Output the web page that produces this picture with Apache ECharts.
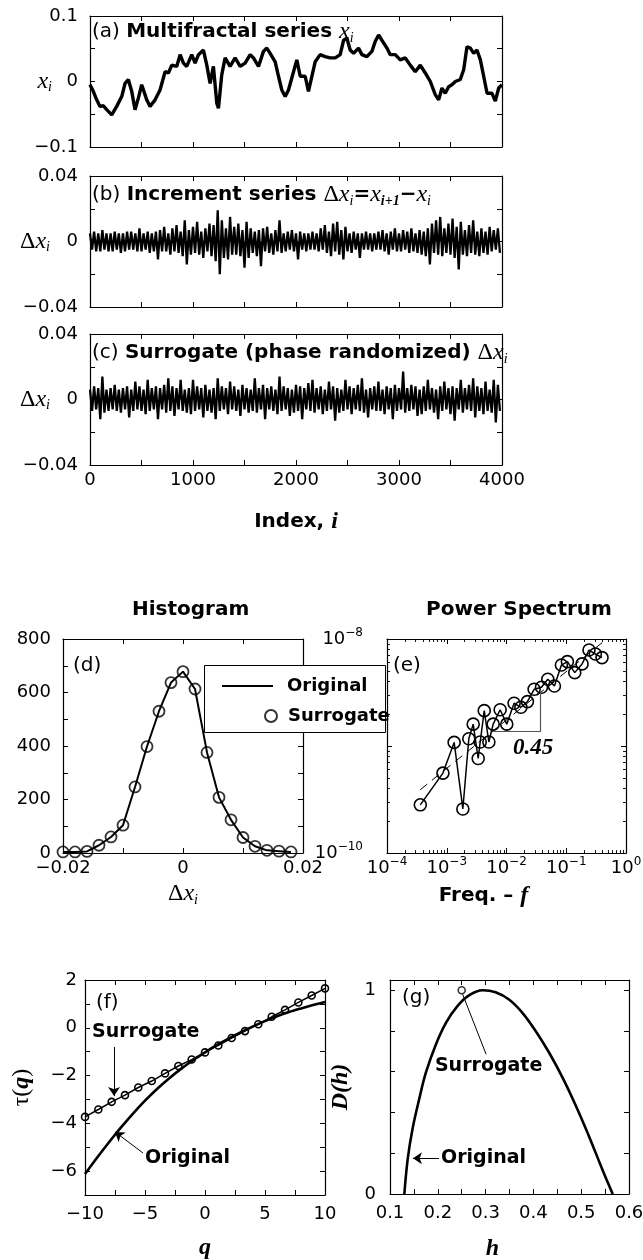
<!DOCTYPE html>
<html><head><meta charset="utf-8">
<script src="https://cdn.jsdelivr.net/npm/echarts@6/dist/echarts.min.js"></script>
<style>html,body{margin:0;padding:0;background:#fff}#c{width:643px;height:1260px}</style>
</head><body><div id="c"></div>
<script>
// ---------------- DATA ----------------
// (a) multifractal series x_i (index, value)
const indexA = [0,32,65,97,130,162,211,259,308,340,372,405,437,470,502,551,583,632,680,729,761,794,842,875,907,939,988,1020,1053,1101,1134,1166,1198,1231,1247,1279,1312,1360,1409,1458,1506,1555,1587,1636,1684,1717,1749,1798,1830,1862,1895,1927,1976,2008,2041,2089,2121,2154,2186,2235,2283,2332,2381,2429,2462,2494,2526,2559,2607,2640,2688,2737,2769,2802,2834,2883,2915,2964,3012,3061,3109,3158,3207,3255,3304,3352,3385,3417,3449,3482,3514,3547,3595,3628,3660,3693,3725,3757,3790,3822,3855,3903,3935,3968,4000];
const valueA = [-0.005,-0.015,-0.028,-0.038,-0.037,-0.043,-0.051,-0.038,-0.023,-0.003,
0.003,-0.015,-0.043,-0.025,-0.005,-0.028,-0.038,-0.028,-0.013,0.015,
0.013,0.025,0.023,0.041,0.028,0.023,0.041,0.028,0.041,0.048,
0.025,-0.003,0.023,-0.033,-0.041,0.010,0.036,0.023,0.036,0.023,
0.028,0.041,0.036,0.023,0.046,0.051,0.043,0.030,0.008,-0.013,
-0.023,-0.013,0.015,0.033,0.008,0.008,-0.015,0.008,0.030,0.041,
0.038,0.036,0.036,0.041,0.063,0.066,0.048,0.043,0.051,0.041,
0.038,0.046,0.061,0.071,0.063,0.051,0.041,0.041,0.033,0.036,
0.025,0.015,0.025,0.013,0.000,-0.020,-0.028,-0.010,-0.018,-0.008,
-0.005,0.000,0.003,0.018,0.053,0.051,0.043,0.048,0.033,0.008,
-0.018,-0.018,-0.030,-0.010,-0.005];
// (b) increment series, extremes read every 20 steps, in units of 0.001
const stepBC = 20;
const incrementMilli = [5,-5,6,-6,5,-6,7,-5,5,-6, 5,-6,6,-5,5,-7,5,-6,6,-5, 6,-5,5,-6,8,-6,5,-5,6,-7,
5,-6,6,-11,7,-6,9,-6,5,-8, 8,-6,10,-7,6,-9,13,-14,7,-8, 9,-7,12,-8,6,-10,8,-6,11,-9,
10,-12,19,-20,13,-10,8,-11,15,-8, 9,-8,11,-9,7,-16,12,-10,8,-7, 6,-9,7,-15,8,-6,9,-7,5,-8,
7,-6,13,-7,5,-6,6,-5,7,-6, 5,-11,6,-5,5,-6,5,-5,6,-5, 5,-6,8,-5,10,-7,6,-9,11,-6,
12,-8,7,-11,9,-6,5,-7,6,-5, 5,-10,5,-5,6,-5,5,-6,5,-5, 6,-5,7,-6,5,-8,6,-5,8,-6,
5,-6,7,-5,6,-7,8,-6,5,-7, 7,-8,6,-9,8,-14,11,-7,13,-8, 15,-9,8,-7,11,-8,14,-10,9,-17,
12,-8,7,-9,10,-7,13,-8,6,-9, 8,-7,6,-8,9,-6,7,-5,8,-7];
// (c) surrogate increments, in units of 0.001
const surrogateMilli = [6,-7,8,-6,7,-12,14,-8,6,-7, 7,-6,9,-7,6,-8,7,-6,8,-11, 6,-7,11,-6,8,-7,6,-9,12,-7,
7,-6,8,-12,7,-6,9,-8,13,-7, 8,-10,7,-6,12,-7,6,-8,7,-9, 12,-7,8,-6,7,-11,9,-7,6,-8,
7,-12,13,-7,8,-6,7,-9,11,-6, 8,-7,6,-10,9,-6,7,-8,6,-7, 13,-8,7,-6,9,-12,7,-6,8,-7,
6,-9,14,-7,8,-6,7,-10,6,-8, 9,-7,8,-12,7,-6,10,-7,12,-8, 7,-6,8,-9,6,-7,11,-6,8,-13,
7,-8,6,-7,12,-6,8,-9,7,-6, 9,-7,13,-8,6,-11,7,-6,8,-7, 11,-7,6,-9,8,-6,7,-12,9,-7,
7,-6,17,-8,7,-7,9,-6,8,-10, 6,-9,8,-7,12,-6,7,-8,6,-12, 8,-7,11,-6,7,-9,8,-13,7,-6,
12,-8,7,-6,9,-7,13,-11,8,-7, 7,-9,11,-7,6,-8,12,-14,9,-7];
// (d) histogram
const histBins = [-0.020,-0.018,-0.016,-0.014,-0.012,-0.010,-0.008,-0.006,-0.004,-0.002,0,0.002,0.004,0.006,0.008,0.010,0.012,0.014,0.016,0.018];
const histOriginal = [4,4,6,29,60,104,247,398,530,637,678,613,376,208,124,58,25,10,7,4];
const histSurrogate = [4,4,6,29,60,104,247,398,530,637,678,613,376,208,124,58,25,10,7,4];
// (e) power spectrum
const freq = [3.61e-4,8.63e-4,1.33e-3,1.86e-3,2.34e-3,2.77e-3,3.36e-3,3.63e-3,4.24e-3,5.07e-3,5.98e-3,7.83e-3,1.01e-2,1.34e-2,1.74e-2,2.24e-2,2.90e-2,3.85e-2,4.91e-2,6.34e-2,8.30e-2,0.1045,0.1387,0.184,0.2404,0.307,0.397];
const power = [2.82e-10,5.58e-10,1.08e-9,2.58e-10,1.17e-9,1.60e-9,7.64e-10,1.09e-9,2.14e-9,1.09e-9,1.60e-9,2.18e-9,1.60e-9,2.51e-9,2.30e-9,2.60e-9,3.39e-9,3.54e-9,4.21e-9,3.64e-9,5.71e-9,6.14e-9,4.85e-9,5.85e-9,7.89e-9,7.24e-9,6.70e-9];
const fitFreq = [3.6e-4, 0.418];
const fitPower = [3.9e-10, 9.44e-9];
const slopeFreq = [0.00598, 0.0374];
const slopePower = [1.36e-9, 3.34e-9];
// (f) tau(q)
const qOriginal = [-10,-9,-8,-7,-6,-5,-4,-3,-2,-1,0,1,2,3,4,5,6,7,8,9,10];
const tauOriginal = [-6.12,-5.44,-4.79,-4.17,-3.59,-3.05,-2.56,-2.12,-1.72,-1.36,-1.03,-0.72,-0.44,-0.18,0.06,0.28,0.48,0.66,0.81,0.95,1.08];
const qSurrogate = [-10,-8.89,-7.78,-6.67,-5.56,-4.44,-3.33,-2.22,-1.11,0,1.11,2.22,3.33,4.44,5.56,6.67,7.78,8.89,10];
const tauSurrogate = [-3.73,-3.42,-3.10,-2.82,-2.50,-2.23,-1.91,-1.60,-1.33,-1.03,-0.74,-0.43,-0.14,0.15,0.46,0.75,1.06,1.35,1.65];
// (g) D(h)
const hOriginal = [0.130,0.137,0.147,0.161,0.175,0.196,0.217,0.241,0.266,0.294,0.321,0.349,0.377,0.405,0.433,0.461,0.489,0.516,0.544,0.566];
const dOriginal = [0,0.171,0.318,0.465,0.595,0.734,0.840,0.922,0.976,1.0,0.990,0.954,0.889,0.799,0.693,0.571,0.432,0.285,0.122,0.0];
const hSurrogate = [0.25];
const dSurrogate = [1.0];

// ---------------- STYLE ----------------
const FONT = 'DejaVu Sans';
const SERIF = 'Liberation Serif';
const BLACK = '#000';
const M = s => String(s).replace('-', '\u2212');
const RICH = {
  r:  {fontFamily: FONT, fontSize: 20, color: BLACK, lineHeight: 26},
  b:  {fontFamily: FONT, fontSize: 20, fontWeight: 'bold', color: BLACK, lineHeight: 26},
  x:  {fontFamily: SERIF, fontSize: 24, fontStyle: 'italic', color: BLACK, lineHeight: 26},
  xb: {fontFamily: SERIF, fontSize: 24, fontStyle: 'italic', fontWeight: 'bold', color: BLACK, lineHeight: 26},
  d:  {fontFamily: SERIF, fontSize: 24, color: BLACK, lineHeight: 26},
  sub:{fontFamily: SERIF, fontSize: 14, fontStyle: 'italic', color: BLACK, lineHeight: 12, verticalAlign: 'bottom'},
  subb:{fontFamily: SERIF, fontSize: 14, fontStyle: 'italic', fontWeight: 'bold', color: BLACK, lineHeight: 12, verticalAlign: 'bottom'}
};
const LOGRICH = {
  b: {fontFamily: FONT, fontSize: 18, color: BLACK, lineHeight: 24},
  s: {fontFamily: FONT, fontSize: 12, color: BLACK, lineHeight: 12, verticalAlign: 'top'}
};

const fmtA = v => { const k = Math.round(v * 20); return k % 2 ? '' : M(+(k / 20).toFixed(1)); };
const fmtMilli = v => { const k = Math.round(v); return k % 40 ? '' : M(k / 1000); };
const fmtIndex = v => (Math.round(v) % 1000 ? '' : String(Math.round(v)));
const fmtDx = v => { const k = Math.round(v * 100); return k % 2 ? '' : M(k / 100); };
const fmtDy = v => (Math.round(v) % 200 ? '' : String(Math.round(v)));
const fmtFx = v => (Math.round(v * 10) % 50 ? '' : M(Math.round(v)));
const fmtFy = v => (Math.round(v) % 2 ? '' : M(Math.round(v)));
const fmtGx = v => { const k = Math.round(v * 20); return k % 2 ? '' : (k / 20).toFixed(1); };
const fmtGy = v => (Math.abs(v) < 1e-9 ? '0' : (Math.abs(v - 1) < 1e-9 ? '1' : ''));
const fmtLogX = v => { const e = Math.round(Math.log10(v)); return '{b|10}{s|' + M(e) + '}'; };
const fmtLogY = v => { const e = Math.round(Math.log10(v)); return (e === -8 || e === -10) ? '{b|10}{s|' + M(e) + '}' : ''; };

// log-axis minor tick positions (2..9 in each decade)
function logMinor(e0, e1) { const out = []; for (let e = e0; e < e1; e++) for (let k = 2; k <= 9; k++) out.push(k * Math.pow(10, e)); return out; }

function axisPair(dim, gi, s) {
  const base = {
    gridIndex: gi, type: s.type || 'value', min: s.min, max: s.max,
    splitLine: {show: false},
    axisLine: {show: true, onZero: false, lineStyle: {color: BLACK, width: 1.2}},
    axisTick: {show: true, inside: true, length: 5, lineStyle: {color: BLACK, width: 1}},
    minorTick: {show: false}
  };
  if (s.interval != null) base.interval = s.interval;
  if (s.logBase) base.logBase = s.logBase;
  const main = Object.assign({}, base, {
    position: dim === 'x' ? 'bottom' : 'left',
    axisLabel: {show: s.fmt != null, color: BLACK, fontFamily: FONT, fontSize: 18, margin: s.margin != null ? s.margin : 8,
      formatter: s.fmt, rich: s.rich, showMinLabel: true, showMaxLabel: true},
    name: s.name || '', nameLocation: 'middle', nameGap: s.nameGap || 30, nameMoveOverlap: false,
    nameRotate: s.nameRotate, nameTextStyle: Object.assign({rich: RICH}, s.nameStyle || {})
  });
  const mirror = Object.assign({}, base, {position: dim === 'x' ? 'top' : 'right', axisLabel: {show: false}, name: ''});
  const out = [main, mirror];
  if (s.minorValues) {
    ['bottom', 'top'].forEach((p, j) => {
      out.push({gridIndex: gi, type: 'log', logBase: 10, min: s.min, max: s.max,
        position: dim === 'x' ? p : (j ? 'right' : 'left'),
        splitLine: {show: false}, axisLabel: {show: false}, axisLine: {show: false, onZero: false},
        axisTick: {show: true, inside: true, length: 3, customValues: s.minorValues, lineStyle: {color: BLACK, width: 0.9}}});
    });
  }
  return out;
}

const G = (left, top, width, height) => ({left, top, width, height, containLabel: false, outerBoundsMode: 'none'});
const grids = [
  G(90, 16, 412, 131),
  G(90, 176, 412, 131),
  G(90, 334, 412, 131),
  G(63, 639, 240, 214),
  G(387, 639, 239, 214),
  G(85, 980, 240, 215),
  G(390, 980, 239, 214)
];

const idxX = {min: 0, max: 4000, interval: 500};
const xAxes = [].concat(
  axisPair('x', 0, idxX),
  axisPair('x', 1, idxX),
  axisPair('x', 2, Object.assign({fmt: fmtIndex, margin: 6, name: '{b|Index, }{xb|i}', nameGap: 44}, idxX)),
  axisPair('x', 3, {min: -0.02, max: 0.02, interval: 0.01, fmt: fmtDx, margin: 6, name: '{d|Δ}{x|x}{sub|i}', nameGap: 28}),
  axisPair('x', 5, {min: -10, max: 10, interval: 2.5, fmt: fmtFx, margin: 10, name: '{xb|q}', nameGap: 40}),
  axisPair('x', 6, {min: 0.1, max: 0.6, interval: 0.05, fmt: fmtGx, margin: 10, name: '{xb|h}', nameGap: 42, nameStyle: {padding: [0, 34, 0, 0]}}),
  axisPair('x', 4, {type: 'log', logBase: 10, min: 1e-4, max: 1, fmt: fmtLogX, rich: LOGRICH, margin: 3, name: '{b|Freq. – }{xb|f}', nameGap: 30, nameStyle: {padding: [0, 46, 0, 0]}, minorValues: logMinor(-4, 0)})
);
const yAxes = [].concat(
  axisPair('y', 0, {min: -0.1, max: 0.1, interval: 0.05, fmt: fmtA, margin: 12, name: '{x|x}{sub|i}', nameGap: 38, nameRotate: 0}),
  axisPair('y', 1, {min: -40, max: 40, interval: 20, fmt: fmtMilli, margin: 12, name: '{d|Δ}{x|x}{sub|i}', nameGap: 40, nameRotate: 0}),
  axisPair('y', 2, {min: -40, max: 40, interval: 20, fmt: fmtMilli, margin: 12, name: '{d|Δ}{x|x}{sub|i}', nameGap: 40, nameRotate: 0}),
  axisPair('y', 3, {min: 0, max: 800, interval: 100, fmt: fmtDy, margin: 12}),
  axisPair('y', 5, {min: -7, max: 2, interval: 1, fmt: fmtFy, margin: 8, name: '{d|τ(}{xb|q}{d|)}', nameGap: 50}),
  axisPair('y', 6, {min: 0, max: 1.05, interval: 0.2, fmt: fmtGy, margin: 14, name: '{xb|D(h)}', nameGap: 36}),
  axisPair('y', 4, {type: 'log', logBase: 10, min: 1e-10, max: 1e-8, fmt: fmtLogY, rich: LOGRICH, margin: 24, minorValues: logMinor(-10, -8)})
);
// axis index of each grid's main axes (grids 0..3,5,6 use 2 axes each; grid 4 is last)
const AX = {0: 0, 1: 2, 2: 4, 3: 6, 5: 8, 6: 10, 4: 12};

const pairs = (xs, ys) => xs.map((x, k) => [x, ys[k]]);
const hollow = (bw) => ({color: 'rgba(0,0,0,0)', borderColor: BLACK, borderWidth: bw});
const annoLabel = {show: true, position: 'right', distance: 0, fontFamily: FONT, fontWeight: 'bold', fontSize: 19, color: BLACK};
const arrowLine = (segs, ends) => ({silent: true, symbol: ends, symbolSize: 9, label: {show: false},
  lineStyle: {color: BLACK, width: 1, type: 'solid'}, emphasis: {disabled: true}, data: segs});
const on = g => ({xAxisIndex: AX[g], yAxisIndex: AX[g]});
const noise = {symbol: 'none', lineStyle: {color: BLACK, width: 2.3}, areaStyle: {color: BLACK, opacity: 1, origin: 0}};

const series = [
  Object.assign({type: 'line', data: pairs(indexA, valueA), symbol: 'none', lineStyle: {color: BLACK, width: 3.4}}, on(0)),
  Object.assign({type: 'line', data: incrementMilli.map((v, k) => [k * stepBC, v])}, noise, on(1)),
  Object.assign({type: 'line', data: surrogateMilli.map((v, k) => [k * stepBC, v])}, noise, on(2)),
  Object.assign({name: 'Original', type: 'line', data: pairs(histBins, histOriginal), symbol: 'none', itemStyle: {color: BLACK}, lineStyle: {color: BLACK, width: 2}}, on(3)),
  Object.assign({name: 'Surrogate', type: 'scatter', data: pairs(histBins, histSurrogate), symbol: 'circle', symbolSize: 11, itemStyle: hollow(1.8), z: 3}, on(3)),
  Object.assign({name: 'Spectrum', type: 'line', data: pairs(freq, power), symbol: 'circle', symbolSize: 12, showSymbol: true,
    itemStyle: hollow(1.6), lineStyle: {color: BLACK, width: 1.5},
    markLine: {silent: true, symbol: 'none', label: {show: false}, lineStyle: {color: '#555', width: 1.2, type: 'solid'},
      data: [[{coord: [slopeFreq[0], slopePower[0]]}, {coord: [slopeFreq[1], slopePower[0]]}],
             [{coord: [slopeFreq[1], slopePower[0]]}, {coord: [slopeFreq[1], slopePower[1]]}]]},
    markPoint: {symbol: 'circle', symbolSize: 0, silent: true,
      label: {show: true, formatter: '0.45', fontFamily: SERIF, fontStyle: 'italic', fontWeight: 'bold', fontSize: 23, color: BLACK},
      data: [{coord: [0.0278, 9.57e-10]}]}}, on(4)),
  Object.assign({name: 'Fit', type: 'line', data: pairs(fitFreq, fitPower), symbol: 'none', lineStyle: {color: BLACK, width: 1, type: [9, 6]}}, on(4)),
  Object.assign({name: 'tauOriginal', type: 'line', data: pairs(qOriginal, tauOriginal), symbol: 'none', smooth: 0.3, lineStyle: {color: BLACK, width: 2.6},
    markLine: arrowLine([[{coord: [-7.58, -0.80]}, {coord: [-7.58, -2.86]}], [{coord: [-5.17, -5.24]}, {coord: [-7.5, -4.36]}]], ['none', 'arrow']),
    markPoint: {symbol: 'circle', symbolSize: 0, silent: true, label: annoLabel,
      data: [{coord: [-9.42, -0.18], label: {formatter: 'Surrogate'}}, {coord: [-5.0, -5.45], label: {formatter: 'Original'}}]}}, on(5)),
  Object.assign({name: 'tauSurrogate', type: 'line', data: pairs(qSurrogate, tauSurrogate), symbol: 'circle', symbolSize: 7, itemStyle: hollow(1.6), lineStyle: {color: BLACK, width: 1.5}}, on(5)),
  Object.assign({name: 'dOriginal', type: 'line', data: pairs(hOriginal, dOriginal), symbol: 'none', smooth: 0.35, lineStyle: {color: BLACK, width: 2.6},
    markLine: {silent: true, label: {show: false}, lineStyle: {color: BLACK, width: 1, type: 'solid'}, symbolSize: 9,
      data: [[{coord: [0.252, 0.98], symbol: 'none'}, {coord: [0.301, 0.686], symbol: 'none'}],
             [{coord: [0.2025, 0.176], symbol: 'none'}, {coord: [0.148, 0.176], symbol: 'arrow'}]]},
    markPoint: {symbol: 'circle', symbolSize: 0, silent: true, label: annoLabel,
      data: [{coord: [0.194, 0.627], label: {formatter: 'Surrogate'}}, {coord: [0.2067, 0.176], label: {formatter: 'Original'}}]}}, on(6)),
  Object.assign({name: 'dSurrogate', type: 'scatter', data: pairs(hSurrogate, dSurrogate), symbol: 'circle', symbolSize: 7, itemStyle: hollow(1.6)}, on(6))
];

const tt = (text, left, top) => ({text: text, left: left, top: top, padding: 0, textStyle: {rich: RICH, fontFamily: FONT, fontSize: 20, fontWeight: 'normal', color: BLACK}});
const titles = [
  tt('{r|(a) }{b|Multifractal series }{x|x}{sub|i}', 92, 19),
  tt('{r|(b) }{b|Increment series }{d|Δ}{x|x}{sub|i}{b|=}{x|x}{subb|i+1}{b|−}{x|x}{sub|i}', 92, 182),
  tt('{r|(c) }{b|Surrogate (phase randomized) }{d|Δ}{x|x}{sub|i}', 92, 340),
  tt('{b|Histogram}', 132, 597),
  tt('{b|Power Spectrum}', 426, 597),
  tt('{r|(d)}', 73, 653),
  tt('{r|(e)}', 393, 653),
  tt('{r|(f)}', 96, 990),
  tt('{r|(g)}', 402, 985)
];

const legendText = {fontFamily: FONT, fontWeight: 'bold', fontSize: 18, color: BLACK};
const option = {
  animation: false,
  backgroundColor: '#fff',
  title: titles,
  grid: grids,
  xAxis: xAxes,
  yAxis: yAxes,
  legend: [
    {data: [{name: 'Original', icon: 'rect', itemStyle: {color: BLACK}}], left: 217, top: 672, itemWidth: 51, itemHeight: 2, selectedMode: false, z: 60, textStyle: Object.assign({padding: [0, 0, 0, 9]}, legendText)},
    {data: ['Surrogate'], left: 259, top: 702, itemWidth: 12, itemHeight: 12, selectedMode: false, z: 60, textStyle: Object.assign({padding: [0, 0, 0, 6]}, legendText)}
  ],
  graphic: {elements: [{type: 'rect', z: 50, shape: {x: 204.5, y: 665.5, width: 181, height: 67}, style: {fill: '#fff', stroke: BLACK, lineWidth: 1}}]},
  series: series
};
const chart = echarts.init(document.getElementById('c'), null, {renderer: 'canvas'});
chart.setOption(option);
</script>
</body></html>
